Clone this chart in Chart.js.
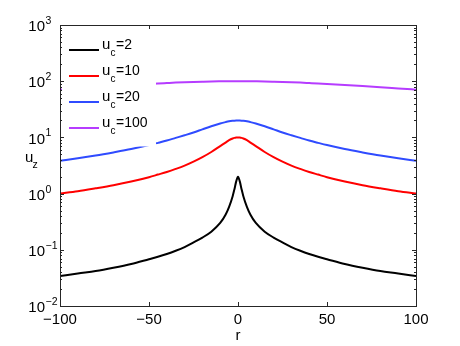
<!DOCTYPE html>
<html>
<head>
<meta charset="utf-8">
<script src="https://cdn.jsdelivr.net/npm/chart.js@4.4.1/dist/chart.umd.min.js"></script>
<style>
  html, body { margin: 0; padding: 0; background: #fff; }
  #wrap { width: 460px; height: 346px; }
</style>
</head>
<body>
<div id="wrap"><canvas id="chart" width="460" height="346"></canvas></div>
<script>
// radial position r (shared by all curves)
const rValues = [-100, -90, -80, -70, -60, -50, -45, -40, -35, -30, -25, -20, -15, -10, -7, -5, -3, -2, -1, 0,
  1, 2, 3, 5, 7, 10, 15, 20, 25, 30, 35, 40, 45, 50, 60, 70, 80, 90, 100];

// u_z for each u_c
const uc2 = [0.034, 0.038, 0.042, 0.048, 0.056, 0.068, 0.075, 0.084, 0.096, 0.112, 0.135, 0.165, 0.21, 0.30, 0.42, 0.58, 0.9, 1.2, 1.65, 2.0,
  1.65, 1.2, 0.9, 0.58, 0.42, 0.30, 0.21, 0.165, 0.135, 0.112, 0.096, 0.084, 0.075, 0.068, 0.056, 0.048, 0.042, 0.038, 0.034];
const uc10 = [1.0, 1.1, 1.24, 1.41, 1.64, 1.96, 2.18, 2.43, 2.75, 3.15, 3.7, 4.45, 5.5, 7.0, 8.1, 8.9, 9.55, 9.8, 9.95, 10,
  9.95, 9.8, 9.55, 8.9, 8.1, 7.0, 5.5, 4.45, 3.7, 3.15, 2.75, 2.43, 2.18, 1.96, 1.64, 1.41, 1.24, 1.1, 1.0];
const uc20 = [3.85, 4.25, 4.75, 5.4, 6.2, 7.3, 8.0, 8.8, 9.8, 10.9, 12.2, 13.9, 15.8, 17.7, 18.7, 19.3, 19.7, 19.85, 19.95, 20,
  19.95, 19.85, 19.7, 19.3, 18.7, 17.7, 15.8, 13.9, 12.2, 10.9, 9.8, 8.8, 8.0, 7.3, 6.2, 5.4, 4.75, 4.25, 3.85];
const uc100 = [70.7, 74.3, 78.1, 81.9, 85.7, 89.4, 91.2, 92.8, 94.4, 95.8, 97, 98, 98.9, 99.5, 99.8, 99.9, 100, 100, 100, 100,
  100, 100, 100, 99.9, 99.8, 99.5, 98.9, 98, 97, 95.8, 94.4, 92.8, 91.2, 89.4, 85.7, 81.9, 78.1, 74.3, 70.7];

const seriesNames = ['2', '10', '20', '100'];
const seriesColors = ['#000000', '#ff0000', '#2f4bff', '#b63cff'];

// axis ticks
const xTicks = [-100, -50, 0, 50, 100];
const yExponents = [-2, -1, 0, 1, 2, 3];

const FONT = '"Liberation Sans", Arial, Helvetica, sans-serif';

function toPoints(values) {
  return values.map((v, i) => ({ x: rValues[i], y: v }));
}

const datasets = [uc2, uc10, uc20, uc100].map((vals, i) => ({
  label: seriesNames[i],
  data: toPoints(vals),
  borderColor: seriesColors[i],
  borderWidth: 2,
  borderJoinStyle: 'round',
  pointRadius: 0,
  fill: false,
  cubicInterpolationMode: 'monotone'
}));

// draws the MATLAB style box, ticks, labels and legend
const matlabAxes = {
  id: 'matlabAxes',
  afterDraw(chart) {
    const ctx = chart.ctx;
    const area = chart.chartArea;
    const xs = chart.scales.x;
    const ys = chart.scales.y;
    ctx.save();

    // legend (white box hides curves behind it)
    ctx.fillStyle = '#fff';
    ctx.fillRect(62, 30, 94, 116.5);
    datasets.forEach((ds, i) => {
      const ly = 50 + i * 26;
      ctx.strokeStyle = ds.borderColor;
      ctx.lineWidth = 2;
      ctx.beginPath();
      ctx.moveTo(69, ly);
      ctx.lineTo(99, ly);
      ctx.stroke();
      ctx.fillStyle = '#000';
      ctx.textAlign = 'left';
      ctx.textBaseline = 'alphabetic';
      ctx.font = '15px ' + FONT;
      ctx.fillText('u', 102, ly - 1.5);
      ctx.font = '10px ' + FONT;
      ctx.fillText('c', 110.5, ly + 6);
      ctx.font = '14px ' + FONT;
      ctx.fillText('=' + ds.label, 116, ly - 1.5);
    });

    // box
    ctx.strokeStyle = '#262626';
    ctx.lineWidth = 1;
    ctx.strokeRect(Math.round(area.left) + 0.5, Math.round(area.top) + 0.5,
      Math.round(area.right - area.left), Math.round(area.bottom - area.top));

    // x ticks (inside, bottom and top)
    ctx.beginPath();
    xTicks.forEach(t => {
      const px = Math.round(xs.getPixelForValue(t)) + 0.5;
      ctx.moveTo(px, area.bottom);
      ctx.lineTo(px, area.bottom - 4);
      ctx.moveTo(px, area.top);
      ctx.lineTo(px, area.top + 4);
    });
    // y ticks, major and minor (inside, left and right)
    yExponents.forEach(e => {
      for (let k = 1; k <= 9; k++) {
        if (e === 3 && k > 1) break;
        const py = Math.round(ys.getPixelForValue(k * Math.pow(10, e))) + 0.5;
        const len = k === 1 ? 4 : 2;
        ctx.moveTo(area.left, py);
        ctx.lineTo(area.left + len, py);
        ctx.moveTo(area.right, py);
        ctx.lineTo(area.right - len, py);
      }
    });
    ctx.stroke();

    // x tick labels
    ctx.fillStyle = '#000';
    ctx.font = '15px ' + FONT;
    ctx.textAlign = 'center';
    ctx.textBaseline = 'middle';
    xTicks.forEach(t => {
      const label = t < 0 ? '\u2212' + Math.abs(t) : String(t);
      ctx.fillText(label, xs.getPixelForValue(t), 320);
    });

    // y tick labels 10^n
    yExponents.forEach(e => {
      const py = ys.getPixelForValue(Math.pow(10, e));
      ctx.font = '15px ' + FONT;
      ctx.textAlign = 'right';
      ctx.textBaseline = 'middle';
      ctx.fillText('10', 45, py + 2);
      ctx.font = '10.5px ' + FONT;
      ctx.textAlign = 'left';
      ctx.textBaseline = 'alphabetic';
      ctx.fillText(e < 0 ? '\u2212' + Math.abs(e) : String(e), 45.5, py - 1);
    });

    // axis titles
    ctx.font = '15px ' + FONT;
    ctx.textAlign = 'center';
    ctx.textBaseline = 'alphabetic';
    ctx.fillText('r', xs.getPixelForValue(0), 340);
    ctx.textAlign = 'left';
    ctx.fillText('u', 25, 162);
    ctx.font = '10.5px ' + FONT;
    ctx.fillText('z', 32.5, 167.5);

    ctx.restore();
  }
};

new Chart(document.getElementById('chart').getContext('2d'), {
  type: 'line',
  data: { datasets: datasets },
  options: {
    responsive: false,
    devicePixelRatio: 1,
    animation: false,
    layout: { padding: { left: 60, right: 44, top: 25, bottom: 40 } },
    scales: {
      x: { type: 'linear', min: -100, max: 100, display: false },
      y: { type: 'logarithmic', min: 0.01, max: 1000, display: false }
    },
    plugins: {
      legend: { display: false },
      tooltip: { enabled: false }
    }
  },
  plugins: [matlabAxes]
});
</script>
</body>
</html>
